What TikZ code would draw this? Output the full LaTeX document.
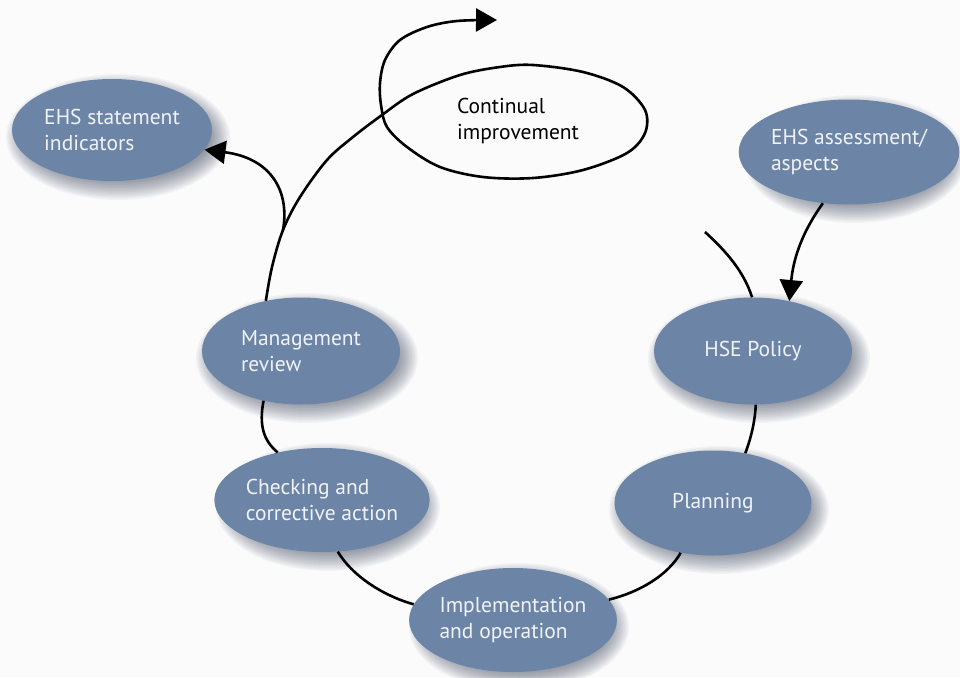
\documentclass[tikz,border=0pt]{standalone}
\usepackage{fontspec}
\setmainfont{PT Sans}
\usetikzlibrary{shapes.geometric,arrows.meta,backgrounds}
\definecolor{bubble}{RGB}{108,132,165}
\definecolor{bgc}{RGB}{251,251,252}
\definecolor{txt}{RGB}{240,243,247}
\definecolor{shadowc}{RGB}{40,50,75}
\tikzset{
  bubble/.style={ellipse, fill=bubble, draw=none, inner sep=0pt,
    text=txt, align=left, font=\fontsize{21.5}{26}\selectfont},
  link/.style={line width=2.6pt, black},
  tipped/.style={link, -{Triangle[length=21pt,width=23pt]}},
}
\newcommand\softshade[3]{%
  \foreach \k in {0,...,13}{%
    \fill[shadowc, opacity=0.045] ([shift={(6,7)}]#1.center) ellipse [x radius={#2+12-1.5*\k}, y radius={#3+12-1.5*\k}];}}
\begin{document}
\begin{tikzpicture}[x=1pt,y=-1pt]
\useasboundingbox (0,0) rectangle (960,677);

\node[bubble, minimum width=200pt, minimum height=102pt] (ind) at (112,130) {EHS statement\\indicators};
\node[bubble, minimum width=198pt, minimum height=105pt] (assess) at (849,152) {EHS assessment/\\aspects};
\node[bubble, minimum width=198pt, minimum height=107pt] (policy) at (753,351) {HSE Policy};
\node[bubble, minimum width=197pt, minimum height=105pt] (plan) at (713,503) {Planning};
\node[bubble, minimum width=197pt, minimum height=104pt] (impl) at (513,620) {Implementation\\and operation};
\node[bubble, minimum width=200pt, minimum height=104pt] (check) at (322,500) {Checking and\\corrective action};
\node[bubble, minimum width=198pt, minimum height=107pt] (mgmt) at (301,351) {Management\\review};
\node[font=\fontsize{21.5}{26}\selectfont, align=left, text=black] (ci) at (518,121) {Continual\\improvement};

\begin{pgfonlayer}{background}
\fill[bgc] (0,0) rectangle (960,677);
\softshade{ind}{100}{51}
\softshade{assess}{99}{52}
\softshade{policy}{99}{53}
\softshade{plan}{98}{52}
\softshade{impl}{98}{52}
\softshade{check}{100}{52}
\softshade{mgmt}{99}{53}
\end{pgfonlayer}

\draw[link] (mgmt.-127) .. controls (259,425) and (263,440) .. (check.133);
\draw[link] (check.-73) .. controls (355,580) and (390,598) .. (impl.171);
\draw[link] (impl.12) .. controls (640,592) and (668,575) .. (plan.-123);
\draw[link] (plan.57) .. controls (752,435) and (755,420) .. (policy.-87);

% spiral through continual improvement
\coordinate (br) at (283,230);
\coordinate (top) at (497,20);
\draw[tipped] plot[smooth, tension=0.55] coordinates {(mgmt.125) (272,267) (br) (300,197) (327,160) (353,137) (382,115) (413,94) (460,75) (500,67) (533,65) (583,72) (623,87) (645,110) (645,133) (627,153) (583,170) (533,178) (483,177) (440,167) (407,147) (387,127) (381,105) (380,83) (385,60) (400,40) (427,27) (457,21) (top)};

% branch to indicators
\draw[tipped] (br) .. controls (290,190) and (270,158) .. (ind.-12);

% stub above policy
\coordinate (stub) at (705,232);
\draw[link] (policy.91) .. controls (744,272) and (727,252) .. (stub);

% assessment to policy
\draw[tipped] (assess.243) .. controls (800,235) and (793,262) .. (policy.54);
\end{tikzpicture}
\end{document}
